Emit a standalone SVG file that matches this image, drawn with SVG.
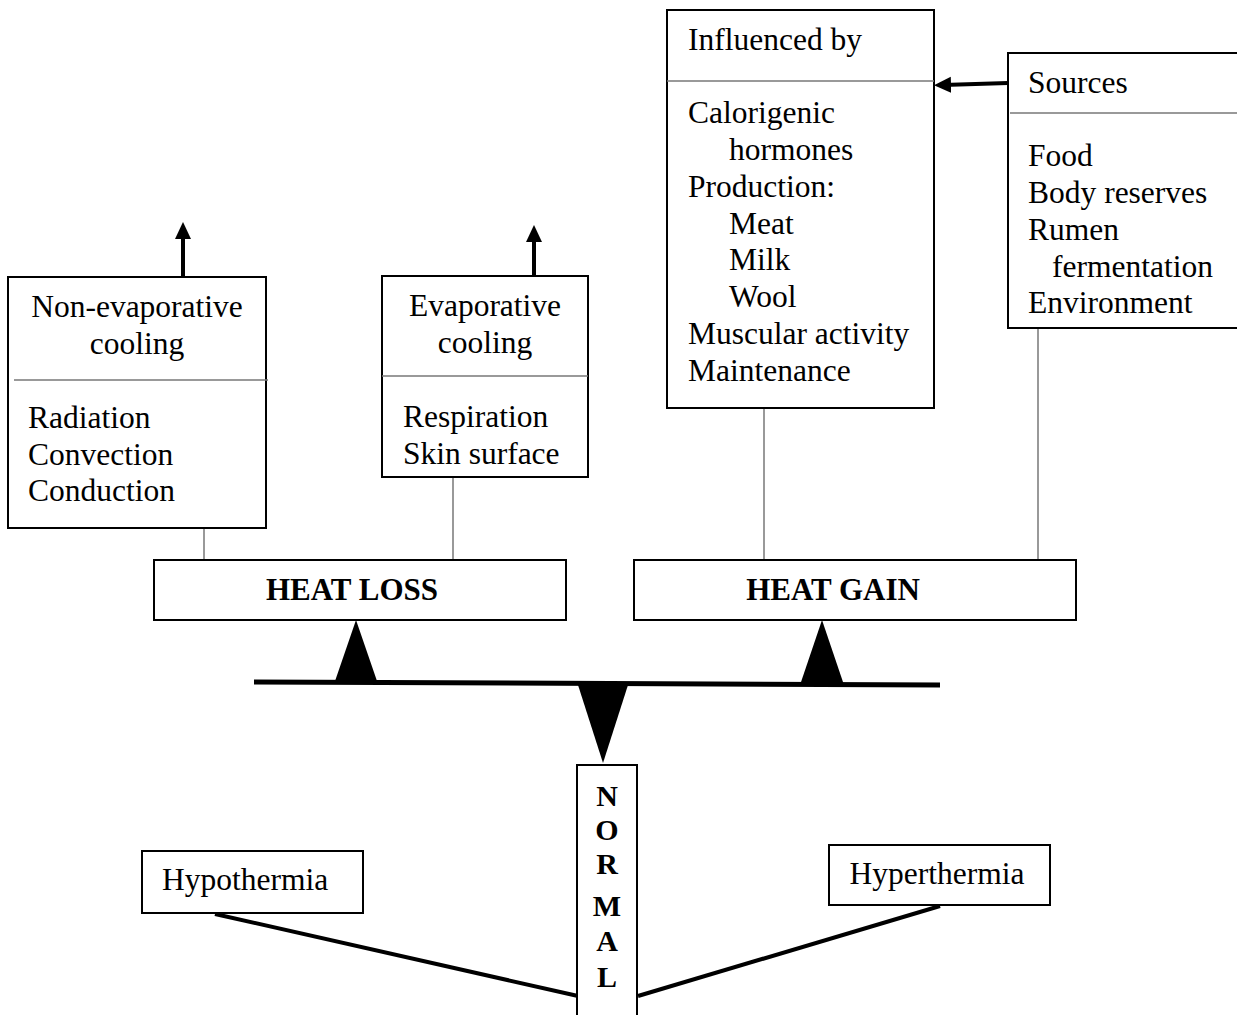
<svg xmlns="http://www.w3.org/2000/svg" width="1237" height="1015" viewBox="0 0 1237 1015">
<style>
.box{fill:#fff;stroke:#000;stroke-width:2}
.div{stroke:#777;stroke-width:1.5}
.t{font-family:"Liberation Serif","Times New Roman",serif;font-size:31.5px;fill:#000}
.b{font-family:"Liberation Serif","Times New Roman",serif;font-size:31px;font-weight:bold;fill:#000}
.n{font-family:"Liberation Serif","Times New Roman",serif;font-size:30px;font-weight:bold;fill:#000;text-anchor:middle}
.c{text-anchor:middle}
.thin{stroke:#777;stroke-width:1.5;fill:none}
.thick{stroke:#000;stroke-width:4;fill:none}
</style>
<defs>
<marker id="ah" markerUnits="userSpaceOnUse" markerWidth="18" markerHeight="18" refX="8" refY="0" orient="auto-start-reverse" viewBox="0 -9 18 18">
<path d="M0,-8 L17,0 L0,8 Z" fill="#000"/>
</marker>
</defs>
<g id="connectors">
<line class="thin" x1="204" y1="528" x2="204" y2="560"/>
<line class="thin" x1="453" y1="477" x2="453" y2="560"/>
<line class="thin" x1="764" y1="408" x2="764" y2="560"/>
<line class="thin" x1="1038" y1="328" x2="1038" y2="560"/>
<line class="thick" x1="183" y1="277" x2="183" y2="231" marker-end="url(#ah)"/>
<line class="thick" x1="534" y1="276" x2="534" y2="234" marker-end="url(#ah)"/>
<line class="thick" x1="1008" y1="83" x2="943" y2="85" marker-end="url(#ah)"/>
<line class="thick" x1="215" y1="914" x2="578" y2="996"/>
<line class="thick" x1="940" y1="906" x2="638" y2="996"/>
</g>
<g id="non-evaporative">
<rect class="box" x="8" y="277" width="258" height="251"/>
<line class="div" x1="14" y1="380" x2="268" y2="380"/>
<text class="t c" x="137" y="317">Non-evaporative</text>
<text class="t c" x="137" y="354">cooling</text>
<text class="t" x="28" y="428">Radiation</text>
<text class="t" x="28" y="465">Convection</text>
<text class="t" x="28" y="501">Conduction</text>
</g>
<g id="evaporative">
<rect class="box" x="382" y="276" width="206" height="201"/>
<line class="div" x1="382" y1="376" x2="588" y2="376"/>
<text class="t c" x="485" y="316">Evaporative</text>
<text class="t c" x="485" y="353">cooling</text>
<text class="t" x="403" y="427">Respiration</text>
<text class="t" x="403" y="464">Skin surface</text>
</g>
<g id="influenced">
<rect class="box" x="667" y="10" width="267" height="398"/>
<line class="div" x1="667" y1="81" x2="934" y2="81"/>
<text class="t" x="688" y="50">Influenced by</text>
<text class="t" x="688" y="123">Calorigenic</text>
<text class="t" x="729" y="160">hormones</text>
<text class="t" x="688" y="197">Production:</text>
<text class="t" x="729" y="234">Meat</text>
<text class="t" x="729" y="270">Milk</text>
<text class="t" x="729" y="307">Wool</text>
<text class="t" x="688" y="344">Muscular activity</text>
<text class="t" x="688" y="381">Maintenance</text>
</g>
<g id="sources">
<rect class="box" x="1008" y="53" width="240" height="275"/>
<line class="div" x1="1010" y1="113" x2="1237" y2="113"/>
<text class="t" x="1028" y="93">Sources</text>
<text class="t" x="1028" y="166">Food</text>
<text class="t" x="1028" y="203">Body reserves</text>
<text class="t" x="1028" y="240">Rumen</text>
<text class="t" x="1052" y="277">fermentation</text>
<text class="t" x="1028" y="313">Environment</text>
</g>
<g id="heat-loss">
<rect class="box" x="154" y="560" width="412" height="60"/>
<text class="b c" x="352" y="600">HEAT LOSS</text>
</g>
<g id="heat-gain">
<rect class="box" x="634" y="560" width="442" height="60"/>
<text class="b c" x="833" y="600">HEAT GAIN</text>
</g>
<g id="balance">
<line x1="254" y1="682" x2="940" y2="685" stroke="#000" stroke-width="5"/>
<polygon points="356,620 334,684 378,684" fill="#000"/>
<polygon points="822,620 800,685 844,685" fill="#000"/>
<polygon points="578,685 628,685 603,763" fill="#000"/>
</g>
<g id="normal">
<rect class="box" x="577" y="765" width="60" height="260"/>
<text class="n" x="607" y="806">N</text>
<text class="n" x="607" y="840">O</text>
<text class="n" x="607" y="874">R</text>
<text class="n" x="607" y="916">M</text>
<text class="n" x="607" y="951">A</text>
<text class="n" x="607" y="987">L</text>
</g>
<g id="hypothermia">
<rect class="box" x="142" y="851" width="221" height="62"/>
<text class="t" x="162" y="890">Hypothermia</text>
</g>
<g id="hyperthermia">
<rect class="box" x="829" y="845" width="221" height="60"/>
<text class="t c" x="937" y="884">Hyperthermia</text>
</g>
</svg>
